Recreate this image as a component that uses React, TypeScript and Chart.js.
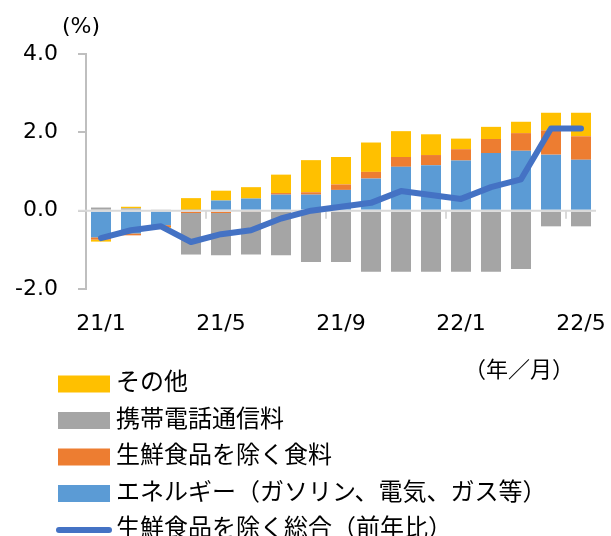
import React, { useEffect, useRef } from "react";
import { Chart, registerables } from "chart.js";

Chart.register(...registerables);

const categories = [
  "21/1", "21/2", "21/3", "21/4", "21/5", "21/6", "21/7", "21/8", "21/9",
  "21/10", "21/11", "21/12", "22/1", "22/2", "22/3", "22/4", "22/5",
];
const energy = [-0.68, -0.58, -0.37, 0.02, 0.26, 0.31, 0.41, 0.41, 0.53, 0.82, 1.12, 1.16, 1.28, 1.47, 1.53, 1.43, 1.30];
const food = [-0.06, -0.05, -0.05, -0.06, -0.06, -0.02, 0.04, 0.06, 0.14, 0.17, 0.25, 0.26, 0.29, 0.36, 0.45, 0.62, 0.60];
const mobile = [0.08, 0.06, 0.03, -1.06, -1.08, -1.10, -1.14, -1.31, -1.31, -1.56, -1.56, -1.56, -1.56, -1.56, -1.49, -0.40, -0.40];
const other = [-0.05, 0.04, -0.02, 0.30, 0.25, 0.29, 0.47, 0.82, 0.70, 0.75, 0.66, 0.53, 0.27, 0.31, 0.29, 0.45, 0.60];
const coreCPI = [-0.7, -0.5, -0.4, -0.8, -0.6, -0.5, -0.2, 0.0, 0.1, 0.2, 0.5, 0.4, 0.3, 0.6, 0.8, 2.1, 2.1];
const yTicks = [-2, 0, 2, 4];

const seriesLabels = {
  energy: "エネルギー（ガソリン、電気、ガス等）",
  food: "生鮮食品を除く食料",
  mobile: "携帯電話通信料",
  other: "その他",
  core: "生鮮食品を除く総合（前年比）",
};
const unitLabel = "(%)";
const xUnitLabel = "（年／月）";

const NUM_FONT = "'DejaVu Sans', Verdana, sans-serif";
const CJK_FONT = "'Noto Sans CJK JP', sans-serif";

const extrasPlugin = {
  id: "extras",
  afterDatasetDraw(chart: any, args: any) {
    if (args.index !== 0) return;
    const { ctx, chartArea, scales } = chart;
    const y0 = scales.y.getPixelForValue(0);
    ctx.save();
    ctx.strokeStyle = "#d9d9d9";
    ctx.lineWidth = 2;
    ctx.beginPath();
    ctx.moveTo(chartArea.left - 8, y0);
    ctx.lineTo(chartArea.right, y0);
    ctx.stroke();
    const n = chart.data.labels.length;
    for (let i = 3; i < n - 1; i += 4) {
      const xa = scales.x.getPixelForValue(i);
      const xb = scales.x.getPixelForValue(i + 1);
      const xm = Math.round((xa + xb) / 2);
      ctx.beginPath();
      ctx.moveTo(xm, y0);
      ctx.lineTo(xm, y0 + 8);
      ctx.stroke();
    }
    ctx.restore();
  },
  afterDraw(chart: any) {
    const { ctx } = chart;
    ctx.save();
    ctx.fillStyle = "#000";
    ctx.font = `22px ${NUM_FONT}`;
    ctx.textAlign = "left";
    ctx.textBaseline = "middle";
    ctx.fillText(unitLabel, 62, 27);
    ctx.font = `22px ${CJK_FONT}`;
    ctx.fillText(xUnitLabel, 464, 369);

    const order = [3, 2, 1, 0, 4];
    order.forEach((di, row) => {
      const ds = chart.data.datasets[di];
      const cy = 384 + row * 36.5;
      if (ds.type === "line") {
        ctx.strokeStyle = ds.borderColor;
        ctx.lineWidth = 6;
        ctx.lineCap = "round";
        ctx.beginPath();
        ctx.moveTo(59, cy);
        ctx.lineTo(109, cy);
        ctx.stroke();
      } else {
        ctx.fillStyle = ds.backgroundColor;
        ctx.fillRect(58, cy - 8.5, 52, 17);
      }
      ctx.fillStyle = "#000";
      ctx.font = `24px ${CJK_FONT}`;
      ctx.textBaseline = "middle";
      ctx.fillText(ds.label, 116, cy - 3);
    });
    ctx.restore();
  },
};

export default function App() {
  const ref = useRef<HTMLCanvasElement>(null);
  useEffect(() => {
    const chart = new Chart(ref.current as HTMLCanvasElement, {
      type: "bar",
      data: {
        labels: categories,
        datasets: [
          { type: "bar", label: seriesLabels.energy, data: energy, backgroundColor: "#5B9BD5", stack: "s", order: 1 },
          { type: "bar", label: seriesLabels.food, data: food, backgroundColor: "#ED7D31", stack: "s", order: 1 },
          { type: "bar", label: seriesLabels.mobile, data: mobile, backgroundColor: "#A5A5A5", stack: "s", order: 1 },
          { type: "bar", label: seriesLabels.other, data: other, backgroundColor: "#FFC000", stack: "s", order: 1 },
          {
            type: "line", label: seriesLabels.core, data: coreCPI, borderColor: "#4472C4",
            backgroundColor: "#4472C4", borderWidth: 6, pointRadius: 0, tension: 0,
            borderCapStyle: "round", borderJoinStyle: "round", fill: false, stack: "line", order: 0,
          },
        ] as any,
      },
      options: {
        responsive: false,
        devicePixelRatio: 1,
        animation: false,
        layout: { padding: { top: 54, left: 0, right: 15, bottom: 0 } },
        datasets: { bar: { categoryPercentage: 1, barPercentage: 0.667 } },
        plugins: { legend: { display: false }, tooltip: { enabled: false } },
        scales: {
          x: {
            type: "category",
            stacked: true,
            offset: true,
            grid: { display: false, drawTicks: false },
            border: { display: false },
            ticks: {
              autoSkip: false,
              maxRotation: 0,
              minRotation: 0,
              padding: 22,
              color: "#000",
              font: { family: NUM_FONT, size: 22 },
              callback: (_v: any, i: number) => (i % 4 === 0 ? categories[i] : ""),
            },
            afterFit: (s: any) => {
              s.height = 536 - 289;
              s.paddingLeft = 0;
              s.paddingRight = 0;
            },
          },
          y: {
            stacked: true,
            min: -2,
            max: 4,
            afterBuildTicks: (s: any) => {
              s.ticks = yTicks.map((v) => ({ value: v }));
            },
            ticks: {
              padding: 20,
              color: "#000",
              font: { family: NUM_FONT, size: 22 },
              callback: (v: any) => Number(v).toFixed(1),
            },
            grid: {
              color: "rgba(0,0,0,0)",
              tickColor: "#bfbfbf",
              tickLength: 8,
              tickWidth: 2,
              lineWidth: 2,
            },
            border: { display: true, color: "#bfbfbf", width: 2 },
            afterFit: (s: any) => {
              s.width = 86;
              s.paddingTop = 0;
              s.paddingBottom = 0;
            },
          },
        },
      } as any,
      plugins: [extrasPlugin],
    });
    return () => chart.destroy();
  }, []);
  return (
    <div style={{ position: "fixed", left: 0, top: 0, width: 611, height: 536, background: "#fff" }}>
      <canvas ref={ref} width={611} height={536} style={{ display: "block", width: 611, height: 536 }} />
    </div>
  );
}
